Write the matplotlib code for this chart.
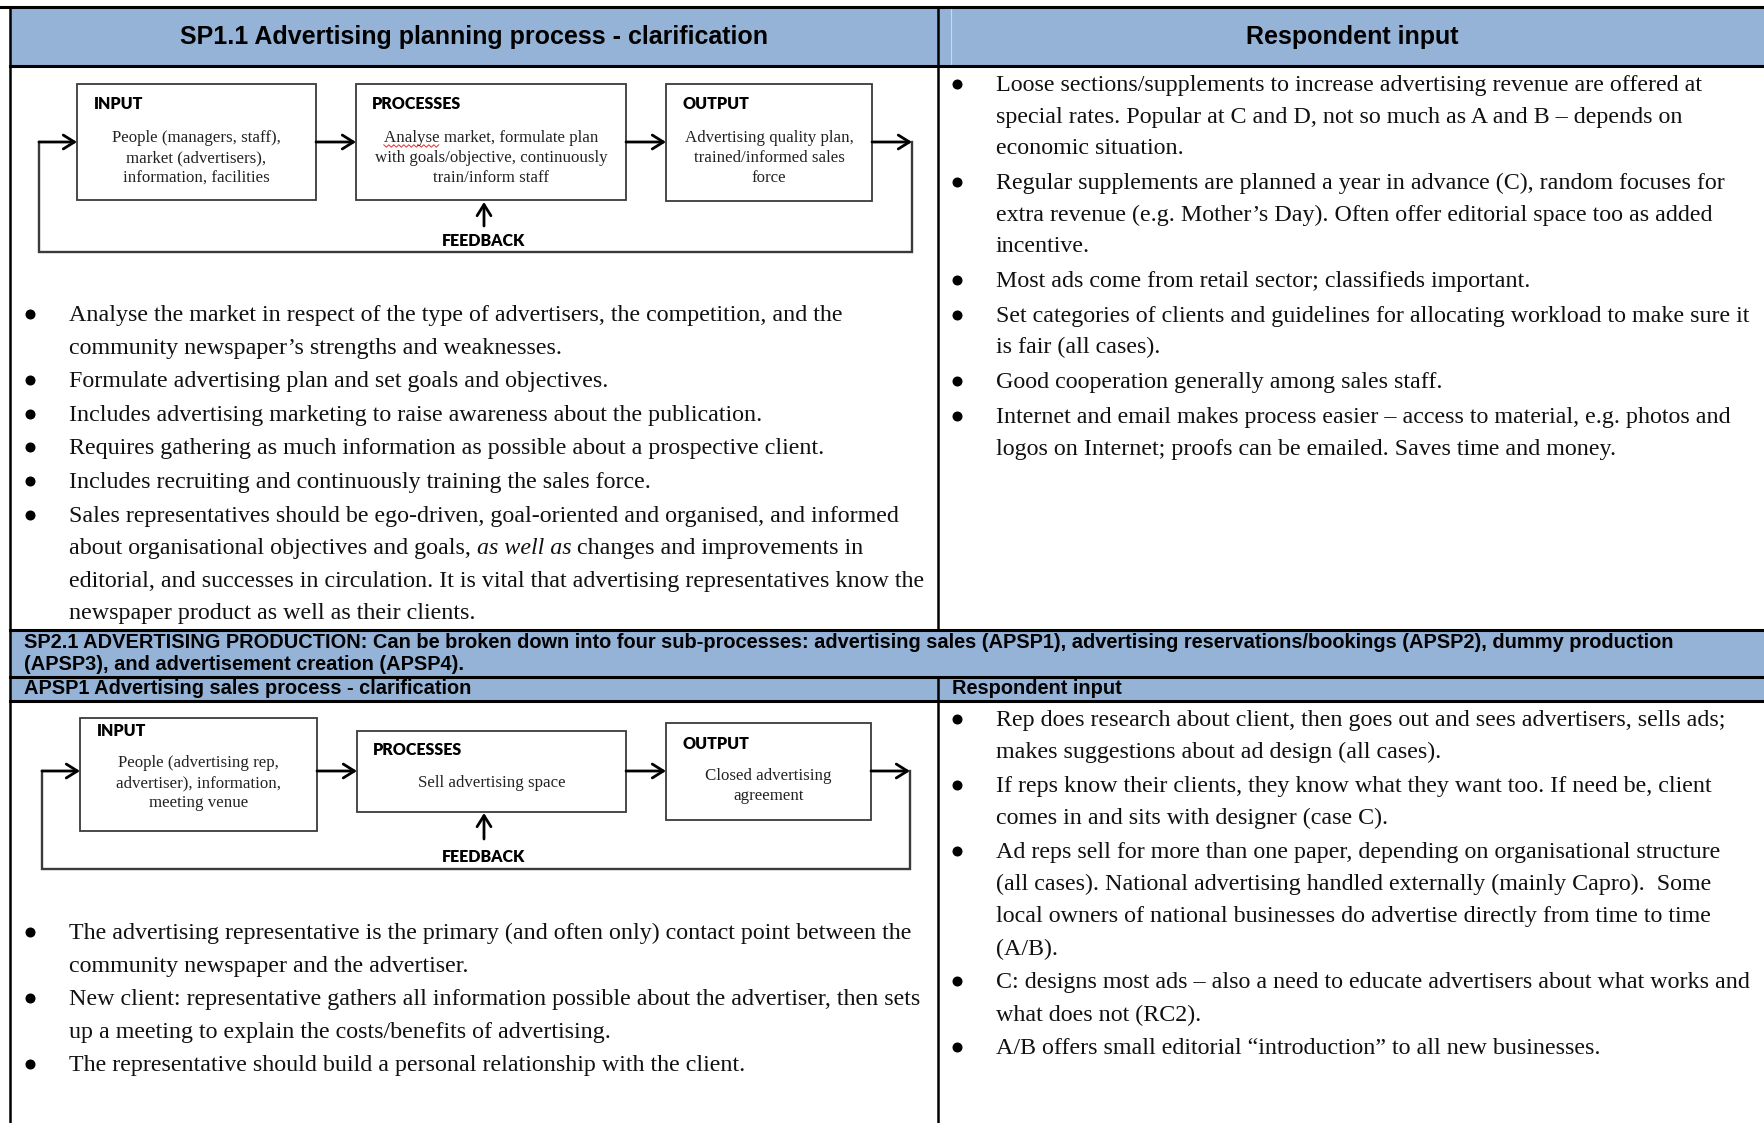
import matplotlib
matplotlib.use("Agg")
import matplotlib.pyplot as plt
from matplotlib.patches import Rectangle

W, H = 1765, 1123
HEAD_BLUE = "#95b3d7"
SERIF = ["Liberation Serif", "DejaVu Serif"]
SANS = ["Liberation Sans", "DejaVu Sans"]
BOXFONT = ["Lato", "Liberation Sans", "DejaVu Sans"]

# ---- text content -------------------------------------------------------
sp11_title = "SP1.1 Advertising planning process - clarification"
resp_title = "Respondent input"
sp21_lines = ["SP2.1 ADVERTISING PRODUCTION: Can be broken down into four sub-processes: "
              "advertising sales (APSP1), advertising reservations/bookings (APSP2), dummy production",
              "(APSP3), and advertisement creation (APSP4)."]
apsp1_title = "APSP1 Advertising sales process - clarification"

box_titles = ["INPUT", "PROCESSES", "OUTPUT"]
diag1_texts = [["People (managers, staff),", "market (advertisers),", "information, facilities"],
               ["Analyse market, formulate plan", "with goals/objective, continuously", "train/inform staff"],
               ["Advertising quality plan,", "trained/informed sales", "force"]]
diag2_texts = [["People (advertising rep,", "advertiser), information,", "meeting venue"],
               ["Sell advertising space"],
               ["Closed advertising", "agreement"]]

left1 = [
    ["Analyse the market in respect of the type of advertisers, the competition, and the",
     "community newspaper\u2019s strengths and weaknesses."],
    ["Formulate advertising plan and set goals and objectives."],
    ["Includes advertising marketing to raise awareness about the publication."],
    ["Requires gathering as much information as possible about a prospective client."],
    ["Includes recruiting and continuously training the sales force."],
    ["Sales representatives should be ego-driven, goal-oriented and organised, and informed",
     "about organisational objectives and goals, *as well as* changes and improvements in",
     "editorial, and successes in circulation. It is vital that advertising representatives know the",
     "newspaper product as well as their clients."],
]
right1 = [
    ["Loose sections/supplements to increase advertising revenue are offered at",
     "special rates. Popular at C and D, not so much as A and B \u2013 depends on",
     "economic situation."],
    ["Regular supplements are planned a year in advance (C), random focuses for",
     "extra revenue (e.g. Mother\u2019s Day). Often offer editorial space too as added",
     "incentive."],
    ["Most ads come from retail sector; classifieds important."],
    ["Set categories of clients and guidelines for allocating workload to make sure it",
     "is fair (all cases)."],
    ["Good cooperation generally among sales staff."],
    ["Internet and email makes process easier \u2013 access to material, e.g. photos and",
     "logos on Internet; proofs can be emailed. Saves time and money."],
]
left2 = [
    ["The advertising representative is the primary (and often only) contact point between the",
     "community newspaper and the advertiser."],
    ["New client: representative gathers all information possible about the advertiser, then sets",
     "up a meeting to explain the costs/benefits of advertising."],
    ["The representative should build a personal relationship with the client."],
]
right2 = [
    ["Rep does research about client, then goes out and sees advertisers, sells ads;",
     "makes suggestions about ad design (all cases)."],
    ["If reps know their clients, they know what they want too. If need be, client",
     "comes in and sits with designer (case C)."],
    ["Ad reps sell for more than one paper, depending on organisational structure",
     "(all cases). National advertising handled externally (mainly Capro).  Some",
     "local owners of national businesses do advertise directly from time to time",
     "(A/B)."],
    ["C: designs most ads \u2013 also a need to educate advertisers about what works and",
     "what does not (RC2)."],
    ["A/B offers small editorial \u201cintroduction\u201d to all new businesses."],
]

# ---- figure ---------------------------------------------------------------
fig = plt.figure(figsize=(W / 100, H / 100), dpi=100)
ax = fig.add_axes([0, 0, 1, 1])
ax.set_xlim(0, W)
ax.set_ylim(H, 0)
ax.axis("off")
renderer = fig.canvas.get_renderer()

BODY_FS = 17.3


def text_width(t):
    return t.get_window_extent(renderer=renderer).width


def rich_line(x, y, line, fs):
    # segments between '*' are italic
    parts = line.split("*")
    for i, seg in enumerate(parts):
        if not seg:
            continue
        t = ax.text(x, y, seg, fontsize=fs, family=SERIF, va="baseline", ha="left",
                    style="italic" if i % 2 else "normal", color="#111111")
        x += text_width(t)


def bullets(paras, x_dot, x_txt, y0, step, gap, fs=BODY_FS):
    y = y0
    for para in paras:
        ax.plot(x_dot, y - 7, "o", ms=6.2, color="black")
        for line in para:
            rich_line(x_txt, y, line, fs)
            y += step
        y += gap


def squiggle(x0, x1, y):
    xs, ys = [], []
    x, up = x0, True
    while x <= x1:
        xs.append(x)
        ys.append(y - 1.2 if up else y + 1.2)
        x += 2.5
        up = not up
    ax.plot(xs, ys, color="#e03030", lw=0.7)


def diagram(boxes, texts, arrow_y, loop_l, loop_r, loop_b, fb_x, fb_top, fb_bot, fb_y):
    ec = "#3a3a3a"
    for (x0, y0, x1, y1, tx, ty, by), title, lines in zip(boxes, box_titles, texts):
        ax.add_patch(Rectangle((x0, y0), x1 - x0, y1 - y0, fill=False, ec=ec, lw=1.3))
        ax.text(tx, ty, title, fontsize=11.5, family=BOXFONT, weight="heavy", va="center", ha="left")
        cx = (x0 + x1) / 2
        for k, ln in enumerate(lines):
            t = ax.text(cx, by + k * 20, ln, fontsize=12.2, family=SERIF, va="center", ha="center",
                        color="#222222")
            if ln.startswith("Analyse"):
                left = t.get_window_extent(renderer=renderer).x0
                w = text_width(ax.text(0, 0, "Analyse", fontsize=12.2, family=SERIF, alpha=0))
                squiggle(left, left + w, by + k * 20 + 8)
    # horizontal arrows
    xs = [loop_l] + [v for b in boxes for v in (b[0], b[2])] + [loop_r]
    for a, b in zip(xs[0::2], xs[1::2]):
        ax.annotate("", xy=(b, arrow_y), xytext=(a, arrow_y),
                    arrowprops=dict(arrowstyle="->,head_length=0.8,head_width=0.5", lw=2.0,
                                    color="black", shrinkA=0, shrinkB=0))
    # feedback loop
    ax.plot([loop_l, loop_l, loop_r, loop_r], [arrow_y, loop_b, loop_b, arrow_y],
            color=ec, lw=1.7, solid_joinstyle="miter")
    ax.annotate("", xy=(fb_x, fb_top), xytext=(fb_x, fb_bot),
                arrowprops=dict(arrowstyle="->,head_length=0.8,head_width=0.5", lw=2.0,
                                color="black", shrinkA=0, shrinkB=0))
    ax.text(fb_x, fb_y, "FEEDBACK", fontsize=11.5, family=BOXFONT, weight="heavy", va="center",
            ha="center")


# ---- header fills --------------------------------------------------------
ax.add_patch(Rectangle((10, 7), W - 10, 59, color=HEAD_BLUE, lw=0))
ax.add_patch(Rectangle((10, 630), W - 10, 71, color=HEAD_BLUE, lw=0))
ax.plot([951, 951], [8, 65], color="#c9d8ea", lw=0.8)

ax.text(474, 37, sp11_title, fontsize=18, family=SANS, weight="bold", ha="center", va="center")
ax.text(1352, 37, resp_title, fontsize=18, family=SANS, weight="bold", ha="center", va="center")
for k, ln in enumerate(sp21_lines):
    ax.text(24, 643 + k * 22, ln, fontsize=14.4, family=SANS, weight="bold", ha="left", va="center")
ax.text(24, 689, apsp1_title, fontsize=14.4, family=SANS, weight="bold", ha="left", va="center")
ax.text(952, 689, resp_title, fontsize=14.4, family=SANS, weight="bold", ha="left", va="center")

# ---- grid lines ----------------------------------------------------------
ax.plot([0, W], [7, 7], color="black", lw=2.2)
ax.plot([10, W], [66, 66], color="black", lw=2.2)
ax.plot([10, W], [630, 630], color="black", lw=2.2)
ax.plot([10, W], [677, 677], color="black", lw=2.2)
ax.plot([10, W], [701, 701], color="black", lw=2.2)
ax.plot([10, 10], [7, H], color="black", lw=1.8)
ax.plot([938, 938], [7, 630], color="black", lw=1.8)
ax.plot([938, 938], [677, H], color="black", lw=1.8)

# ---- diagrams ------------------------------------------------------------
diagram([(77, 84, 316, 200, 94, 104, 138), (356, 84, 626, 200, 372, 104, 138),
         (666, 84, 872, 201, 683, 104, 138)],
        diag1_texts, 142, 39, 912, 252, 484, 202, 226, 241)
diagram([(80, 718, 317, 831, 97, 731, 763), (357, 731, 626, 812, 373, 750, 783),
         (666, 723, 871, 820, 683, 744, 776)],
        diag2_texts, 771, 42, 910, 869, 484, 813, 839, 857)

# ---- bullet lists ----------------------------------------------------------
bullets(left1, 30, 69, 321, 32.6, 1.0)
bullets(right1, 957, 996, 91, 31.6, 3.2)
bullets(left2, 30, 69, 939, 33.0, 0.0)
bullets(right2, 957, 996, 726, 32.4, 1.0)

fig.savefig("out.png", dpi=100)
